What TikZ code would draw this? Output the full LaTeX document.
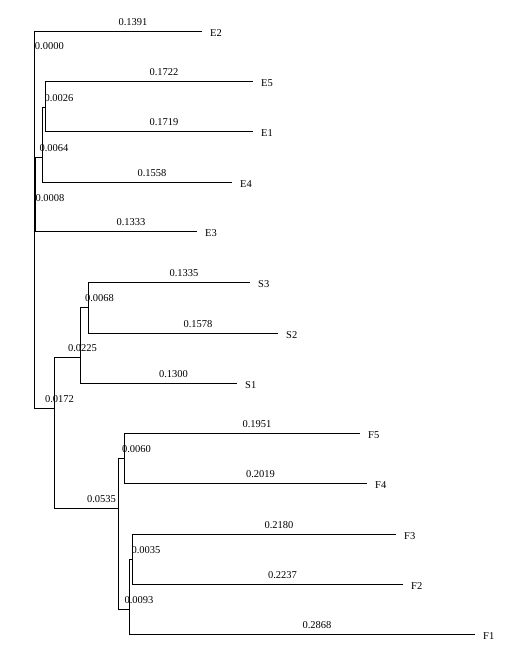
\documentclass[tikz,border=0pt]{standalone}
\usepackage{fontspec}
\setmainfont{Liberation Serif}
\begin{document}
\begin{tikzpicture}[x=1pt,y=-1pt,
  br/.style={line width=1pt},
  len/.style={font=\fontsize{10.5}{12}\selectfont, inner sep=0pt, anchor=west, yshift=9pt, pos=0.75},
  leaf/.style={font=\fontsize{10.5}{12}\selectfont, inner sep=0pt, anchor=west, xshift=8.5pt, yshift=-2pt}]
\useasboundingbox (0,0) rectangle (516,663);
% internal nodes
\coordinate (R)   at (34.5,207.5);
\coordinate (nE0) at (35.5,207.5);
\coordinate (nE1) at (42.5,157.5);
\coordinate (nE2) at (45.5,107.5);
\coordinate (nSF) at (54.5,408.5);
\coordinate (nS)  at (80.5,357.5);
\coordinate (nS2) at (88.5,307.5);
\coordinate (nF)  at (118.5,508.5);
\coordinate (nF1) at (124.5,458.5);
\coordinate (nF2) at (129.5,609.5);
\coordinate (nF3) at (132.5,559.5);
% tips
\coordinate (tE2) at (201.5,31.5);
\coordinate (tE5) at (252.5,81.5);
\coordinate (tE1) at (252.5,131.5);
\coordinate (tE4) at (231.5,182.5);
\coordinate (tE3) at (196.5,231.5);
\coordinate (tS3) at (249.5,282.5);
\coordinate (tS2) at (277.5,333.5);
\coordinate (tS1) at (236.5,383.5);
\coordinate (tF5) at (359.5,433.5);
\coordinate (tF4) at (366.5,483.5);
\coordinate (tF3) at (395.5,534.5);
\coordinate (tF2) at (402.5,584.5);
\coordinate (tF1) at (474.5,634.5);
% leaf labels
\node[leaf] (E2) at (tE2) {E2};
\node[leaf] (E5) at (tE5) {E5};
\node[leaf] (E1) at (tE1) {E1};
\node[leaf] (E4) at (tE4) {E4};
\node[leaf] (E3) at (tE3) {E3};
\node[leaf] (S3) at (tS3) {S3};
\node[leaf] (S2) at (tS2) {S2};
\node[leaf] (S1) at (tS1) {S1};
\node[leaf] (F5) at (tF5) {F5};
\node[leaf] (F4) at (tF4) {F4};
\node[leaf] (F3) at (tF3) {F3};
\node[leaf] (F2) at (tF2) {F2};
\node[leaf] (F1) at (tF1) {F1};
% extra label
\node[font=\fontsize{10.5}{12}\selectfont, inner sep=0pt, anchor=west] (l0) at (34.7,46) {0.0000};
% branches
\draw[br] (R) |- node[len]{0.1391} (tE2);
\draw[br] (R) |- node[len]{0.0008} (nE0);
\draw[br] (R) |- node[len]{0.0172} (nSF);
\draw[br] (nE0) |- node[len]{0.0064} (nE1);
\draw[br] (nE0) |- node[len]{0.1333} (tE3);
\draw[br] (nE1) |- node[len]{0.0026} (nE2);
\draw[br] (nE1) |- node[len]{0.1558} (tE4);
\draw[br] (nE2) |- node[len]{0.1722} (tE5);
\draw[br] (nE2) |- node[len]{0.1719} (tE1);
\draw[br] (nSF) |- node[len]{0.0225} (nS);
\draw[br] (nSF) |- node[len]{0.0535} (nF);
\draw[br] (nS) |- node[len]{0.0068} (nS2);
\draw[br] (nS) |- node[len]{0.1300} (tS1);
\draw[br] (nS2) |- node[len]{0.1335} (tS3);
\draw[br] (nS2) |- node[len]{0.1578} (tS2);
\draw[br] (nF) |- node[len]{0.0060} (nF1);
\draw[br] (nF) |- node[len]{0.0093} (nF2);
\draw[br] (nF1) |- node[len]{0.1951} (tF5);
\draw[br] (nF1) |- node[len]{0.2019} (tF4);
\draw[br] (nF2) |- node[len]{0.0035} (nF3);
\draw[br] (nF2) |- node[len]{0.2868} (tF1);
\draw[br] (nF3) |- node[len]{0.2180} (tF3);
\draw[br] (nF3) |- node[len]{0.2237} (tF2);
\end{tikzpicture}
\end{document}
